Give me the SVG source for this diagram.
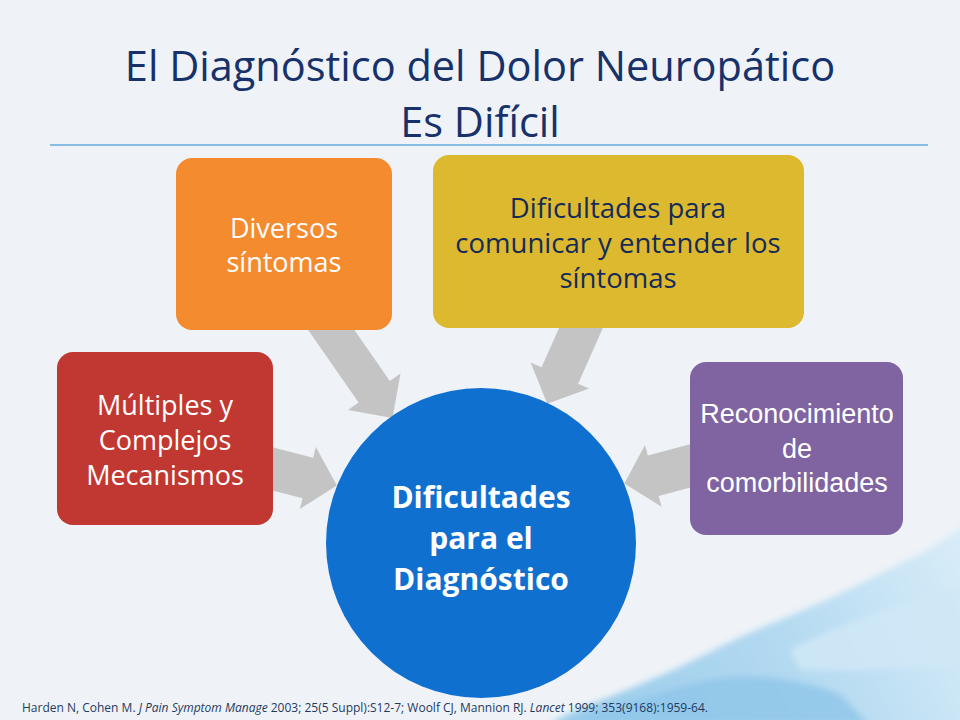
<svg xmlns="http://www.w3.org/2000/svg" width="960" height="720" viewBox="0 0 960 720">
<defs>
<style>
.ttl{font-family:"Open Sans","Noto Sans",sans-serif;font-size:41.5px;fill:#17326B;text-anchor:middle}
.lbl{font-family:"Open Sans","Noto Sans",sans-serif;font-size:27px;fill:#FFFFFF;text-anchor:middle}
.lblD{font-family:"Open Sans","Noto Sans",sans-serif;font-size:27.5px;fill:#142B5A;text-anchor:middle}
.lblA{font-family:"Liberation Sans",Arial,sans-serif;font-size:27px;fill:#FFFFFF;text-anchor:middle}
.ctr{font-family:"Open Sans","Noto Sans",sans-serif;font-size:30px;font-weight:bold;fill:#FFFFFF;text-anchor:middle}
.cit{font-family:"Open Sans","Noto Sans",sans-serif;font-size:12px;fill:#1F3A5F}
.arr{fill:#C4C4C4}
</style>
<linearGradient id="wc" gradientUnits="userSpaceOnUse" x1="600" y1="720" x2="960" y2="540">
<stop offset="0" stop-color="#9CCDEB"/>
<stop offset="0.5" stop-color="#B4DAF1"/>
<stop offset="1" stop-color="#D8ECF8"/>
</linearGradient>
<filter id="blur" x="-20%" y="-20%" width="140%" height="140%"><feGaussianBlur stdDeviation="3"/></filter>
</defs>
<rect x="0" y="0" width="960" height="720" fill="#EFF3F7"/>
<g id="watercolor" filter="url(#blur)">
<path d="M548,725 C575,708 610,698 650,680 C690,664 720,645 770,624 C820,604 860,584 900,564 C930,550 950,535 965,525 L965,725 Z" fill="url(#wc)"/>
<path d="M565,725 C600,710 640,700 690,684 C740,670 790,676 840,694 L870,725 Z" fill="#8FC6E8" opacity="0.8"/>
<path d="M790,650 C840,625 890,605 965,585 L965,665 C900,668 840,672 800,670 Z" fill="#D0E7F6" opacity="0.85"/>
</g>
<line x1="50" y1="145" x2="928" y2="145" stroke="#86BDE3" stroke-width="2"/>
<g id="title">
<text class="ttl" x="480" y="81">El Diagnóstico del Dolor Neuropático</text>
<text class="ttl" x="480" y="137">Es Difícil</text>
</g>
<g id="connectors">
<polygon class="arr" transform="translate(332,331) rotate(55.2)" points="-20,-19 74,-19 74,-32 106,0 74,32 74,19 -20,19"/>
<polygon class="arr" transform="translate(581,328) rotate(114)" points="-20,-20 52,-20 52,-32 83,0 52,32 52,20 -20,20"/>
<polygon class="arr" transform="translate(273,469) rotate(14.5)" points="-20,-21 36,-21 36,-32 66,0 36,32 36,21 -20,21"/>
<polygon class="arr" transform="translate(690,466) rotate(165)" points="-20,-21 38,-21 38,-32 68,0 38,32 38,21 -20,21"/>
</g>
<g id="node-mecanismos">
<rect x="57" y="352" width="216" height="173" rx="16" fill="#C13832"/>
<text class="lbl" x="165" y="415">Múltiples y</text>
<text class="lbl" x="165" y="450">Complejos</text>
<text class="lbl" x="165" y="485">Mecanismos</text>
</g>
<g id="node-sintomas">
<rect x="176" y="158" width="216" height="172" rx="16" fill="#F58B2F"/>
<text class="lbl" x="284" y="238">Diversos</text>
<text class="lbl" x="284" y="272">síntomas</text>
</g>
<g id="node-comunicar">
<rect x="433" y="155" width="371" height="173" rx="16" fill="#DDB92F"/>
<text class="lblD" x="618" y="218">Dificultades para</text>
<text class="lblD" x="618" y="253">comunicar y entender los</text>
<text class="lblD" x="618" y="288">síntomas</text>
</g>
<g id="node-comorbilidades">
<rect x="690" y="362" width="213" height="173" rx="16" fill="#8064A2"/>
<text class="lblA" x="797" y="423">Reconocimiento</text>
<text class="lblA" x="797" y="458">de</text>
<text class="lblA" x="797" y="492">comorbilidades</text>
</g>
<g id="node-centro">
<circle cx="481" cy="543" r="155" fill="#1070D0"/>
<text class="ctr" x="481" y="508">Dificultades</text>
<text class="ctr" x="481" y="549">para el</text>
<text class="ctr" x="481" y="590">Diagnóstico</text>
</g>
<text class="cit" x="22" y="712">Harden N, Cohen M. <tspan font-style="italic">J Pain Symptom Manage</tspan> 2003; 25(5 Suppl):S12-7; Woolf CJ, Mannion RJ. <tspan font-style="italic">Lancet</tspan> 1999; 353(9168):1959-64.</text>
</svg>
